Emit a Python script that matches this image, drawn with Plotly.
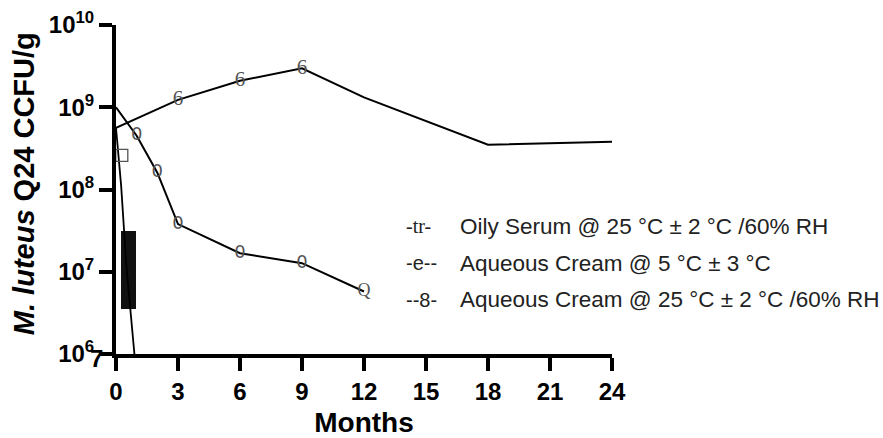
import plotly.graph_objects as go

# ---- data ----
months_ticks = [0, 3, 6, 9, 12, 15, 18, 21, 24]
y_tickvals = [1e6, 1e7, 1e8, 1e9, 1e10]
y_ticktext = ["10<sup>6</sup>", "10<sup>7</sup>", "10<sup>8</sup>", "10<sup>9</sup>", "10<sup>10</sup>"]

# Oily Serum @ 25 °C
oily_x = [0, 3, 6, 9, 12, 18, 24]
oily_y = [5.6e8, 1.23e9, 2.1e9, 2.98e9, 1.32e9, 3.5e8, 3.8e8]
oily_glyph = ["", "6", "6", "6", "", "", ""]

# Aqueous Cream @ 5 °C
cream5_x = [0, 1, 2, 3, 6, 9, 12]
cream5_y = [1.0e9, 4.5e8, 1.6e8, 3.8e7, 1.68e7, 1.27e7, 5.75e6]
cream5_glyph = ["", "0", "0", "0", "0", "0", "Q"]

# Aqueous Cream @ 25 °C
cream25_x = [0, 0.25, 0.5, 1]
cream25_y = [5.6e8, 1.1e8, 1.2e7, 5e5]

square_x = [0.28]
square_y = [2.6e8]

bar_x = [0.615]
bar_width = [0.73]
bar_base = [3.5e6]
bar_top = [3.1e7]

legend_symbols = ["-tr-", "-e--", "--8-"]
legend_labels = [
    "Oily Serum @ 25 °C ± 2 °C /60% RH",
    "Aqueous Cream @ 5 °C ± 3 °C",
    "Aqueous Cream @ 25 °C ± 2 °C /60% RH",
]

fig = go.Figure()

fig.add_trace(go.Bar(
    x=bar_x, y=[t - b for t, b in zip(bar_top, bar_base)], base=bar_base,
    width=bar_width, marker=dict(color="#111111", line=dict(width=0)),
    showlegend=False, hoverinfo="skip"))

fig.add_trace(go.Scatter(
    x=cream25_x, y=cream25_y, mode="lines",
    line=dict(color="black", width=1.8), showlegend=False))

fig.add_trace(go.Scatter(
    x=square_x, y=square_y, mode="markers",
    marker=dict(symbol="square-open", size=12, color="#555555", line=dict(width=1.3)),
    showlegend=False))

fig.add_trace(go.Scatter(
    x=oily_x, y=oily_y, mode="lines+text", text=oily_glyph,
    textposition="middle center",
    textfont=dict(family="Liberation Serif", size=21, color="#555555"),
    line=dict(color="black", width=2), showlegend=False))

fig.add_trace(go.Scatter(
    x=cream5_x, y=cream5_y, mode="lines+text", text=cream5_glyph,
    textposition="middle center",
    textfont=dict(family=["DejaVu Sans"] * 6 + ["Liberation Serif"], size=18, color="#555555"),
    line=dict(color="black", width=2), showlegend=False))

fig.update_layout(
    template="none",
    width=883, height=438,
    margin=dict(l=116, r=271, t=25, b=84, autoexpand=False),
    plot_bgcolor="white", paper_bgcolor="white",
    font=dict(family="Liberation Sans", color="black"),
    bargap=0,
    xaxis=dict(
        range=[0, 24], tickmode="array", tickvals=months_ticks,
        ticktext=[str(v) for v in months_ticks],
        showline=True, linewidth=4, linecolor="black",
        ticks="outside", ticklen=13, tickwidth=3.5, tickcolor="black",
        showgrid=False, zeroline=False, automargin=False,
        tickfont=dict(size=24, weight="bold", family="Liberation Sans"),
        title=dict(text="Months", font=dict(size=28, weight="bold", family="Liberation Sans"), standoff=10),
    ),
    yaxis=dict(
        type="log", range=[6, 10], tickmode="array", tickvals=y_tickvals, ticktext=y_ticktext,
        showline=True, linewidth=4, linecolor="black",
        ticks="outside", ticklen=13, tickwidth=3.5, tickcolor="black",
        showgrid=False, zeroline=False, automargin=False,
        tickfont=dict(size=24, weight="bold", family="Liberation Sans"),
    ),
)

# y-axis title
fig.add_annotation(
    text="<i>M. luteus</i> Q24 CCFU/g", xref="paper", yref="paper",
    x=-0.185, y=0.517, xanchor="center", yanchor="middle", textangle=-90, showarrow=False,
    font=dict(size=29, weight="bold", family="Liberation Sans"))

# stray "7" next to the 10^6 tick label
fig.add_annotation(
    text="7", xref="paper", yref="y", x=-0.040, y=6, xanchor="center", yanchor="middle",
    yshift=-4, showarrow=False,
    font=dict(size=24, weight="bold", family="Liberation Sans"))

# legend text
rows_y = [0.389, 0.276, 0.165]
sym_fonts = ["Liberation Serif", "Liberation Sans", "Liberation Sans"]
for sym, lab, yy, ff in zip(legend_symbols, legend_labels, rows_y, sym_fonts):
    fig.add_annotation(text=sym, xref="paper", yref="paper", x=0.580, y=yy,
                       xanchor="left", yanchor="middle", showarrow=False,
                       font=dict(size=20, family=ff, color="#222222"))
    fig.add_annotation(text=lab, xref="paper", yref="paper", x=0.690, y=yy,
                       xanchor="left", yanchor="middle", showarrow=False,
                       font=dict(size=22.5, family="Liberation Sans", color="#222222"))

fig.write_html(
    "out.html", config={"displayModeBar": False},
    post_script="document.body.style.margin='0';document.body.style.overflow='hidden';")
